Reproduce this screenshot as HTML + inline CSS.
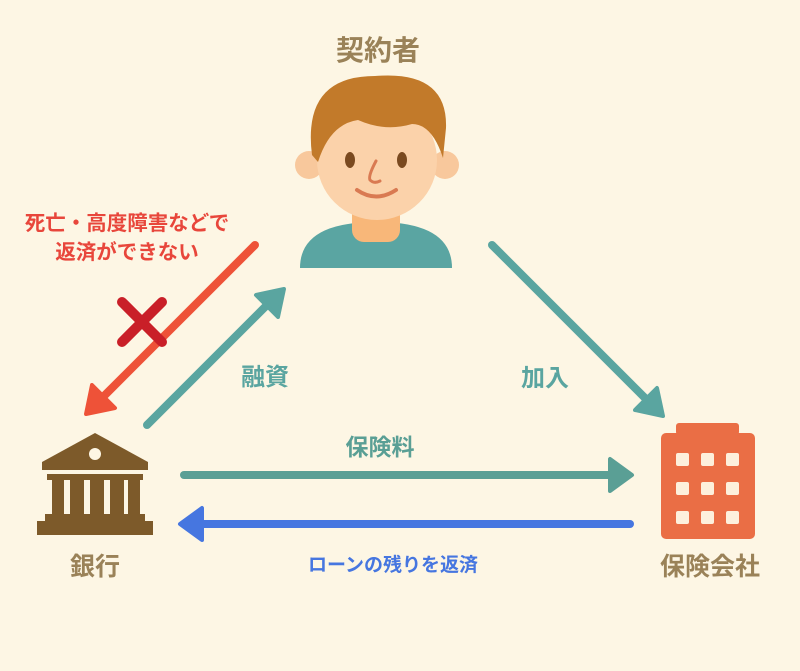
<!DOCTYPE html>
<html><head><meta charset="utf-8"><style>
html,body{margin:0;padding:0;background:#fdf6e4;}
svg{display:block}
text{font-family:"Liberation Sans","Noto Sans CJK JP",sans-serif;font-weight:bold;}
</style></head><body>
<svg width="800" height="671" viewBox="0 0 800 671" xmlns="http://www.w3.org/2000/svg">
<rect width="800" height="671" fill="#fdf6e4"/>
<text x="378" y="60" font-size="28" fill="#9a8258" text-anchor="middle">契約者</text>
<path d="M300 268 Q300 222 376 222 Q452 222 452 268 Z" fill="#5aa5a2"/>
<rect x="352" y="200" width="48" height="42" rx="12" fill="#f8b779"/>
<circle cx="309" cy="165" r="14" fill="#f8c89c"/>
<circle cx="445" cy="165" r="14" fill="#f8c89c"/>
<ellipse cx="377" cy="160" rx="60" ry="60" fill="#fbd2aa"/>
<path d="M312 155 Q302 76 375 76 Q448 70 446 128 L443 158 Q432 124 412 124 Q385 132 358 120 Q330 124 318 162 Z" fill="#c27a2a"/>
<ellipse cx="350" cy="160" rx="5" ry="8" fill="#7a4a20"/>
<ellipse cx="402" cy="160" rx="5" ry="8" fill="#7a4a20"/>
<path d="M376 161 Q368 176 370 180 Q374 184 380 181" fill="none" stroke="#d97a52" stroke-width="3" stroke-linecap="round"/>
<path d="M357 190 Q376 203 396 190" fill="none" stroke="#d97a52" stroke-width="4" stroke-linecap="round"/>
<text x="127" y="230" font-size="20.5" fill="#e8463b" text-anchor="middle">死亡・高度障害などで</text>
<text x="127" y="259" font-size="20.5" fill="#e8463b" text-anchor="middle">返済ができない</text>
<line x1="255" y1="245" x2="100" y2="400" stroke="#ee5238" stroke-width="8" stroke-linecap="round"/>
<polygon points="86,414 92,385 115,408" fill="#ee5238" stroke="#ee5238" stroke-width="4" stroke-linejoin="round"/>
<line x1="122" y1="302" x2="162" y2="342" stroke="#c91f28" stroke-width="10" stroke-linecap="round"/>
<line x1="162" y1="302" x2="122" y2="342" stroke="#c91f28" stroke-width="10" stroke-linecap="round"/>
<line x1="147" y1="425" x2="272" y2="300" stroke="#5aa5a0" stroke-width="8" stroke-linecap="round"/>
<polygon points="284,289 278,317 256,295" fill="#5aa5a0" stroke="#5aa5a0" stroke-width="4" stroke-linejoin="round"/>
<text x="265" y="385" font-size="24" fill="#5aa5a0" text-anchor="middle">融資</text>
<line x1="492" y1="245" x2="650" y2="403" stroke="#5aa5a0" stroke-width="8" stroke-linecap="round"/>
<polygon points="663,416 635,410 657,388" fill="#5aa5a0" stroke="#5aa5a0" stroke-width="4" stroke-linejoin="round"/>
<text x="545" y="386" font-size="24" fill="#5aa5a0" text-anchor="middle">加入</text>
<text x="380" y="455" font-size="23" fill="#5a9f95" text-anchor="middle">保険料</text>
<line x1="184" y1="475" x2="612" y2="475" stroke="#5a9f95" stroke-width="8" stroke-linecap="round"/>
<polygon points="632,475 610,459 610,491" fill="#5a9f95" stroke="#5a9f95" stroke-width="4" stroke-linejoin="round"/>
<line x1="630" y1="524" x2="198" y2="524" stroke="#4676e0" stroke-width="8" stroke-linecap="round"/>
<polygon points="180,524 202,508 202,540" fill="#4676e0" stroke="#4676e0" stroke-width="4" stroke-linejoin="round"/>
<text x="393" y="571" font-size="19" fill="#4676e0" text-anchor="middle">ローンの残りを返済</text>
<g fill="#7d5a2a">
<polygon points="95,433 148,462 148,470 42,470 42,462"/>
<rect x="47" y="474" width="96" height="6"/>
<rect x="52" y="480" width="12" height="36"/>
<rect x="70" y="480" width="14" height="36"/>
<rect x="90" y="480" width="14" height="36"/>
<rect x="110" y="480" width="14" height="36"/>
<rect x="128" y="480" width="12" height="36"/>
<rect x="45" y="514" width="100" height="8"/>
<rect x="37" y="521" width="116" height="14"/>
</g>
<circle cx="95" cy="454" r="6" fill="#fdf6e4"/>
<text x="95" y="575" font-size="25" fill="#9a8258" text-anchor="middle">銀行</text>
<rect x="676" y="423" width="63" height="12" rx="3" fill="#ea6e45"/>
<rect x="661" y="433" width="94" height="106" rx="5" fill="#ea6e45"/>
<g fill="#fdf0dc">
<rect x="676" y="453" width="13" height="13" rx="2"/><rect x="701" y="453" width="13" height="13" rx="2"/><rect x="726" y="453" width="13" height="13" rx="2"/>
<rect x="676" y="482" width="13" height="13" rx="2"/><rect x="701" y="482" width="13" height="13" rx="2"/><rect x="726" y="482" width="13" height="13" rx="2"/>
<rect x="676" y="511" width="13" height="13" rx="2"/><rect x="701" y="511" width="13" height="13" rx="2"/><rect x="726" y="511" width="13" height="13" rx="2"/>
</g>
<text x="710" y="575" font-size="25" fill="#9a8258" text-anchor="middle">保険会社</text>
</svg>
</body></html>
